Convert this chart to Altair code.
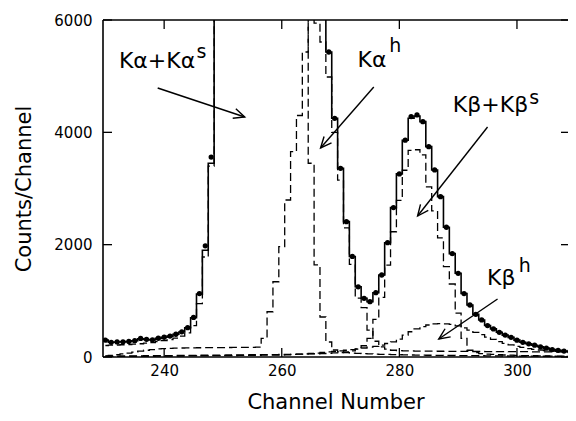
import math
import altair as alt
import pandas as pd

channels = list(range(230, 311))

measured = [
    300, 262, 268, 270, 276, 290, 330, 315, 305, 334,
    352, 372, 405, 448, 522, 705, 1130, 1980, 3560, None,
    None, None, None, None, None, None, None, None, None, None,
    None, None, None, None, None, None, None, None, 5430, 4250,
    3360, 2410, 1790, 1250, 1045, 985, 1145, 1460, 2035, 2660,
    3260, 3860, 4280, 4310, 4190, 3745, 3330, 2855, 2310, 1840,
    1490, 1130, 926, 760, 660, 560, 500, 440, 390, 350,
    300, 262, 235, 210, 182, 158, 132, 118, 105, 98, 95,
]

fit_total = [
    300, 262, 268, 270, 276, 290, 326, 312, 305, 332,
    352, 372, 405, 445, 520, 700, 1120, 1900, 3450, 8300,
    13300, 17300, 20300, 21300, 21300, 20300, 18500, 16900, 15300, 13900,
    12600, 12100, 11900, 11800, 12100, 9900, 7700, 6450, 5430, 4250,
    3360, 2410, 1790, 1250, 1045, 985, 1145, 1460, 2035, 2660,
    3260, 3860, 4250, 4290, 4190, 3745, 3330, 2855, 2310, 1840,
    1490, 1130, 926, 760, 660, 560, 500, 440, 390, 350,
    300, 262, 235, 210, 182, 158, 132, 118, 105, 98, 95,
]

ka_kas = [
    205, 210, 214, 218, 222, 228, 236, 246, 258, 272,
    290, 310, 336, 372, 430, 560, 950, 1780, 3400, 8000,
    13000, 17000, 20000, 21000, 21000, 20000, 18000, 16000, 14000, 12000,
    10500, 9200, 8200, 7400, 6600, 3450, 1640, 712, 267, 125,
    90, 78, 70, 64, 60, 56, 52, 48, 45, 42,
    40, 38, 36, 34, 32, 31, 30, 29, 28, 27,
    26, 25, 24, 23, 22, 21, 20, 19, 18, 17,
    16, 15, 15, 14, 14, 13, 13, 12, 12, 11, 11,
]

ka_h = [
    20, 28, 40, 55, 70, 88, 105, 120, 133, 143,
    150, 155, 158, 160, 162, 164, 165, 166, 167, 168,
    168, 169, 170, 170, 171, 172, 175, 333, 806, 1340,
    1964, 2795, 3655, 4300, 5430, 6300, 5946, 5608, 4985, 4000,
    3150, 2300, 1650, 1050, 880, 480, 280, 180, 140, 120,
    112, 110, 108, 106, 105, 104, 103, 102, 101, 100,
    100, 99, 99, 98, 98, 97, 97, 96, 96, 95,
    95, 94, 94, 93, 93, 92, 92, 91, 91, 90, 90,
]

kb_kbs = [
    15, 16, 17, 18, 19, 20, 21, 22, 23, 24,
    25, 26, 27, 28, 29, 30, 31, 32, 33, 34,
    35, 36, 37, 38, 39, 40, 41, 42, 43, 44,
    45, 46, 48, 50, 52, 55, 58, 62, 66, 72,
    80, 90, 110, 140, 200, 330, 670, 1060, 1635, 2230,
    2790, 3325, 3680, 3690, 3600, 3030, 2600, 2120, 1610, 1300,
    780, 330, 120, 80, 60, 50, 45, 40, 36, 32,
    29, 26, 24, 22, 20, 18, 16, 15, 14, 13, 12,
]

kb_h = [
    5, 6, 7, 8, 9, 10, 11, 12, 13, 14,
    15, 16, 17, 18, 19, 20, 21, 22, 23, 24,
    25, 26, 27, 28, 29, 30, 31, 32, 33, 34,
    35, 40, 45, 50, 55, 62, 70, 80, 90, 100,
    110, 120, 130, 145, 160, 175, 190, 210, 240, 270,
    320, 390, 450, 500, 540, 570, 590, 595, 590, 580,
    555, 520, 480, 440, 400, 355, 315, 275, 244, 215,
    190, 170, 150, 135, 125, 115, 108, 100, 95, 90, 86,
]

x_ticks = [240, 260, 280, 300]
y_ticks = [0, 2000, 4000, 6000]

label_main = ["K\u03b1+K\u03b1", "K\u03b1", "K\u03b2+K\u03b2", "K\u03b2"]
label_sup = ["s", "h", "s", "h"]
label_ch = [232.3, 272.9, 289.1, 294.9]
label_ct = [5145, 5163, 4362, 1282]
sup_ch = [245.5, 278.3, 302.1, 300.3]
sup_ct = [5323, 5430, 4500, 1513]

arrow_ch0 = [238.9, 275.65, 295.0, 296.7]
arrow_ct0 = [4789, 4807, 4095, 1033]
arrow_ch1 = [253.7, 266.6, 283.1, 286.7]
arrow_ct1 = [4273, 3721, 2510, 320]

W, H = 465, 337
X_DOM = [229.6, 308.68]
Y_DOM = [0, 6000]
px_per_ch = W / (X_DOM[1] - X_DOM[0])
px_per_ct = H / (Y_DOM[1] - Y_DOM[0])

FONT = "DejaVu Sans"

xs = alt.Scale(domain=X_DOM, nice=False, zero=False)
ys = alt.Scale(domain=Y_DOM, nice=False)

x_axis = alt.Axis(values=x_ticks, ticks=False, tickSize=0, domain=False, grid=False,
                  labelFontSize=15, labelPadding=6, labelColor="black", labelFont=FONT,
                  title="Channel Number", titleFontSize=21, titleFontWeight="normal",
                  titlePadding=13, titleColor="black", titleFont=FONT)
y_axis = alt.Axis(values=y_ticks, ticks=False, tickSize=0, domain=False, grid=False,
                  labelFontSize=15, labelPadding=11, labelColor="black", format="d",
                  labelFont=FONT,
                  title="Counts/Channel", titleFontSize=21, titleFontWeight="normal",
                  titlePadding=19, titleColor="black", titleFont=FONT)


def X(field):
    return alt.X(field, scale=xs, axis=x_axis, title="Channel Number")


def Y(field):
    return alt.Y(field, scale=ys, axis=y_axis, title="Counts/Channel")


df_main = pd.DataFrame({"channel": channels, "total": fit_total, "data": measured})
comps = {"Ka": ka_kas, "Kah": ka_h, "Kb": kb_kbs, "Kbh": kb_h}
df_comp = pd.concat(
    [pd.DataFrame({"channel": channels, "counts": v, "comp": k}) for k, v in comps.items()]
)

angles = []
for a, b, c, d in zip(arrow_ch0, arrow_ct0, arrow_ch1, arrow_ct1):
    dx = (c - a) * px_per_ch
    dy = -(d - b) * px_per_ct
    angles.append(math.degrees(math.atan2(dy, dx)) % 360)

df_lab = pd.DataFrame({"t": label_main, "ch": label_ch, "ct": label_ct})
df_sup = pd.DataFrame({"t": label_sup, "ch": sup_ch, "ct": sup_ct})
df_arr = pd.DataFrame({"x0": arrow_ch0, "y0": arrow_ct0, "x1": arrow_ch1, "y1": arrow_ct1, "ang": angles})
df_xt = pd.DataFrame({"v": x_ticks})
df_yt = pd.DataFrame({"v": y_ticks})
df_one = pd.DataFrame({"k": [0]})

comp_lines = alt.Chart(df_comp).mark_line(
    interpolate="step", clip=True, color="black", strokeWidth=1.3, strokeDash=[8, 4]
).encode(x=X("channel:Q"), y=Y("counts:Q"), detail="comp:N")

total_line = alt.Chart(df_main).mark_line(
    interpolate="step", clip=True, color="black", strokeWidth=1.6
).encode(x=X("channel:Q"), y=Y("total:Q"))

dots = alt.Chart(df_main).mark_circle(size=28, color="black", opacity=1, clip=True).encode(
    x=X("channel:Q"), y=Y("data:Q"))

labels = alt.Chart(df_lab).mark_text(
    align="left", baseline="alphabetic", fontSize=22, font=FONT, color="black"
).encode(x=X("ch:Q"), y=Y("ct:Q"), text="t:N")

sups = alt.Chart(df_sup).mark_text(
    align="left", baseline="alphabetic", fontSize=19, font=FONT, color="black"
).encode(x=X("ch:Q"), y=Y("ct:Q"), text="t:N")

arrow_lines = alt.Chart(df_arr).mark_rule(color="black", strokeWidth=1.4).encode(
    x=X("x0:Q"), y=Y("y0:Q"), x2="x1:Q", y2="y1:Q")

arrow_heads = alt.Chart(df_arr).mark_point(
    shape="M -1 -0.45 L 0 0 L -1 0.45", filled=False, color="black", strokeWidth=1.4,
    size=484, opacity=1
).encode(x=X("x1:Q"), y=Y("y1:Q"), angle=alt.Angle("ang:Q", scale=None))

tick_len = 9
left_ticks = alt.Chart(df_yt).mark_rule(color="black", strokeWidth=1.3).encode(
    y=Y("v:Q"), x=alt.value(0), x2=alt.value(tick_len))
right_ticks = alt.Chart(df_yt).mark_rule(color="black", strokeWidth=1.3).encode(
    y=Y("v:Q"), x=alt.value(W), x2=alt.value(W - 7))
bottom_ticks = alt.Chart(df_xt).mark_rule(color="black", strokeWidth=1.3).encode(
    x=X("v:Q"), y=alt.value(H), y2=alt.value(H - tick_len))
top_ticks = alt.Chart(df_xt).mark_rule(color="black", strokeWidth=1.3).encode(
    x=X("v:Q"), y=alt.value(0), y2=alt.value(tick_len))

frame_left = alt.Chart(df_one).mark_rule(color="black", strokeWidth=1.6).encode(
    x=alt.value(0), y=alt.value(0), y2=alt.value(H))
frame_top = alt.Chart(df_one).mark_rule(color="black", strokeWidth=1.6).encode(
    y=alt.value(0), x=alt.value(0), x2=alt.value(W))
frame_bottom = alt.Chart(df_one).mark_rule(color="black", strokeWidth=1.6).encode(
    y=alt.value(H), x=alt.value(0), x2=alt.value(W))

chart = alt.layer(
    comp_lines, total_line, dots, labels, sups, arrow_lines, arrow_heads,
    left_ticks, right_ticks, bottom_ticks, top_ticks,
    frame_left, frame_top, frame_bottom,
).properties(
    width=W, height=H,
    autosize=alt.AutoSizeParams(type="none"),
    padding={"left": 95, "top": 12, "right": 0, "bottom": 56},
).configure(font=FONT).configure_view(
    strokeWidth=0
)

chart.save("out.html", embed_options={"renderer": "svg", "actions": False})
